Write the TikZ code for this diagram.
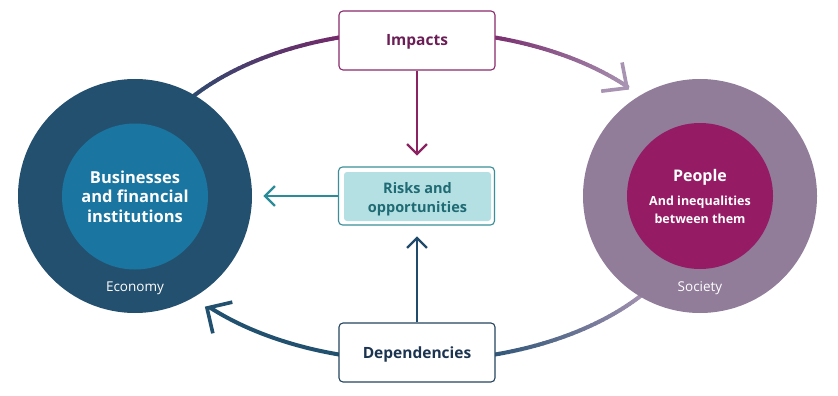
\documentclass[tikz,border=0pt]{standalone}
\usepackage{fontspec}
\setmainfont{Open Sans}
\usetikzlibrary{calc}
\definecolor{econout}{HTML}{24506F}
\definecolor{econin}{HTML}{1A76A0}
\definecolor{socout}{HTML}{917C9A}
\definecolor{socin}{HTML}{951C64}
\definecolor{impcol}{HTML}{8A2A6C}
\definecolor{imptext}{HTML}{6B1E55}
\definecolor{depcol}{HTML}{24445F}
\definecolor{deptext}{HTML}{1C3450}
\definecolor{riskline}{HTML}{3A8F99}
\definecolor{riskfill}{HTML}{B4E0E4}
\definecolor{risktext}{HTML}{1F6A73}
\definecolor{arcblue}{HTML}{22506F}
\definecolor{arcpurple}{HTML}{76296A}
\definecolor{arclight}{HTML}{A893B2}
\definecolor{arcdep}{HTML}{2E5677}
\definecolor{arrowdown}{HTML}{8B2362}
\definecolor{arrowup}{HTML}{1F4A6B}
\definecolor{arrowteal}{HTML}{2A8C99}
\newcommand\gradarc[5]{%
  \foreach \k in {1,...,#5}{%
    \pgfmathsetmacro\ta{#1+(#2-#1)*(\k-1)/#5}%
    \pgfmathsetmacro\tb{#1+(#2-#1)*\k/#5}%
    \pgfmathsetmacro\pp{100-100*(\k-0.5)/#5}%
    \draw[arcline, color=#3!\pp!#4] ({417+281*cos(\ta)},{-196+165*sin(\ta)})
      arc[start angle=\ta, end angle=\tb, x radius=281, y radius=165];
  }}
\newcommand\lowered[2]{\raisebox{-#1}[\height][\depth]{#2}}
\begin{document}
\begin{tikzpicture}[x=1pt,y=1pt,
  arcline/.style={line width=4pt, line cap=round},
  bigchev/.style={line width=3.6pt, line join=miter, line cap=butt},
  smallline/.style={line width=2.2pt},
  smallchev/.style={line width=2.2pt, line join=miter, line cap=butt},
  outer/.style={circle, minimum size=234pt, inner sep=0pt},
  inner/.style={circle, minimum size=146pt, inner sep=0pt, text=white, align=center},
  ringlabel/.style={text=white, font=\fontsize{13.5}{16}\selectfont},
  boxnode/.style={draw, fill=white, rounded corners=4pt, line width=1.1pt,
    minimum width=156pt, minimum height=59pt, inner sep=0pt, align=center},
]
\useasboundingbox (0,0) rectangle (838,-396);
\fill[white] (0,0) rectangle (838,-396);

% big arcs (behind circles and boxes)
\gradarc{150}{104}{arcblue}{arcpurple}{40}
\gradarc{76}{41.5}{arcpurple}{arclight}{40}
\gradarc{-36}{-75}{arclight}{arcdep}{40}
\draw[arcline, line cap=butt, color=arcblue] ({417+281*cos(-104)},{-196+165*sin(-104)})
  arc[start angle=-104, end angle=-137.5, x radius=281, y radius=165];

% circles
\node[outer, fill=econout] (econ) at (135,-196) {};
\node[inner, fill=econin, font=\bfseries\fontsize{16.5}{19.5}\selectfont] (biz) at (135,-196.5)
  {Businesses\\and financial\\institutions};
\node[ringlabel] (econlab) at (135,-288) {Economy};

\node[outer, fill=socout] (soc) at (700,-196) {};
\node[inner, fill=socin] (ppl) at (700,-196) {};
\node[text=white, font=\bfseries\fontsize{16}{18}\selectfont] (pplt) at (700,-177) {People};
\node[text=white, align=center, font=\bfseries\fontsize{12.5}{18}\selectfont] (pplsub) at (700,-210)
  {And inequalities\\between them};
\node[ringlabel] (soclab) at (700,-288) {Society};

% arc arrowheads
\coordinate (tipR) at (627,-88);
\draw[bigchev, color=arclight] ($(tipR)+(187:26)$) -- (tipR) -- ($(tipR)+(101:26)$);
\coordinate (tipL) at (207,-308);
\draw[bigchev, color=arcblue] ($(tipL)+(13:26)$) -- (tipL) -- ($(tipL)+(-77:26)$);

% boxes
\node[boxnode, draw=impcol, text=imptext, font=\bfseries\fontsize{15.5}{17}\selectfont] (imp) at (417,-40.5) {\lowered{1.5pt}{Impacts}};
\node[boxnode, draw=depcol, text=deptext, font=\bfseries\fontsize{15.5}{17}\selectfont] (dep) at (417,-352.5) {\lowered{1.5pt}{Dependencies}};
\node[boxnode, draw=riskline, minimum height=58pt] (risk) at (416.5,-196) {};
\node[fill=riskfill, rounded corners=3pt, minimum width=147pt, minimum height=49pt, inner sep=0pt,
  text=risktext, align=center, font=\bfseries\fontsize{14.5}{20}\selectfont] (riskt) at (417.5,-196.5)
  {\lowered{2.5pt}{\begin{tabular}{@{}c@{}}Risks and\\[-0.5pt]opportunities\end{tabular}}};

% small arrows
\coordinate (tipD) at (417,-154);
\draw[smallline, arrowdown] (imp.south) -- (tipD);
\draw[smallchev, arrowdown] ($(tipD)+(135:14)$) -- (tipD) -- ($(tipD)+(45:14)$);
\coordinate (tipU) at (417,-238);
\draw[smallline, arrowup] (dep.north) -- (tipU);
\draw[smallchev, arrowup] ($(tipU)+(-135:14)$) -- (tipU) -- ($(tipU)+(-45:14)$);
\coordinate (tipW) at (265,-196);
\draw[smallline, arrowteal] (risk.west) -- (tipW);
\draw[smallchev, arrowteal] ($(tipW)+(45:14)$) -- (tipW) -- ($(tipW)+(-45:14)$);
\end{tikzpicture}
\end{document}
